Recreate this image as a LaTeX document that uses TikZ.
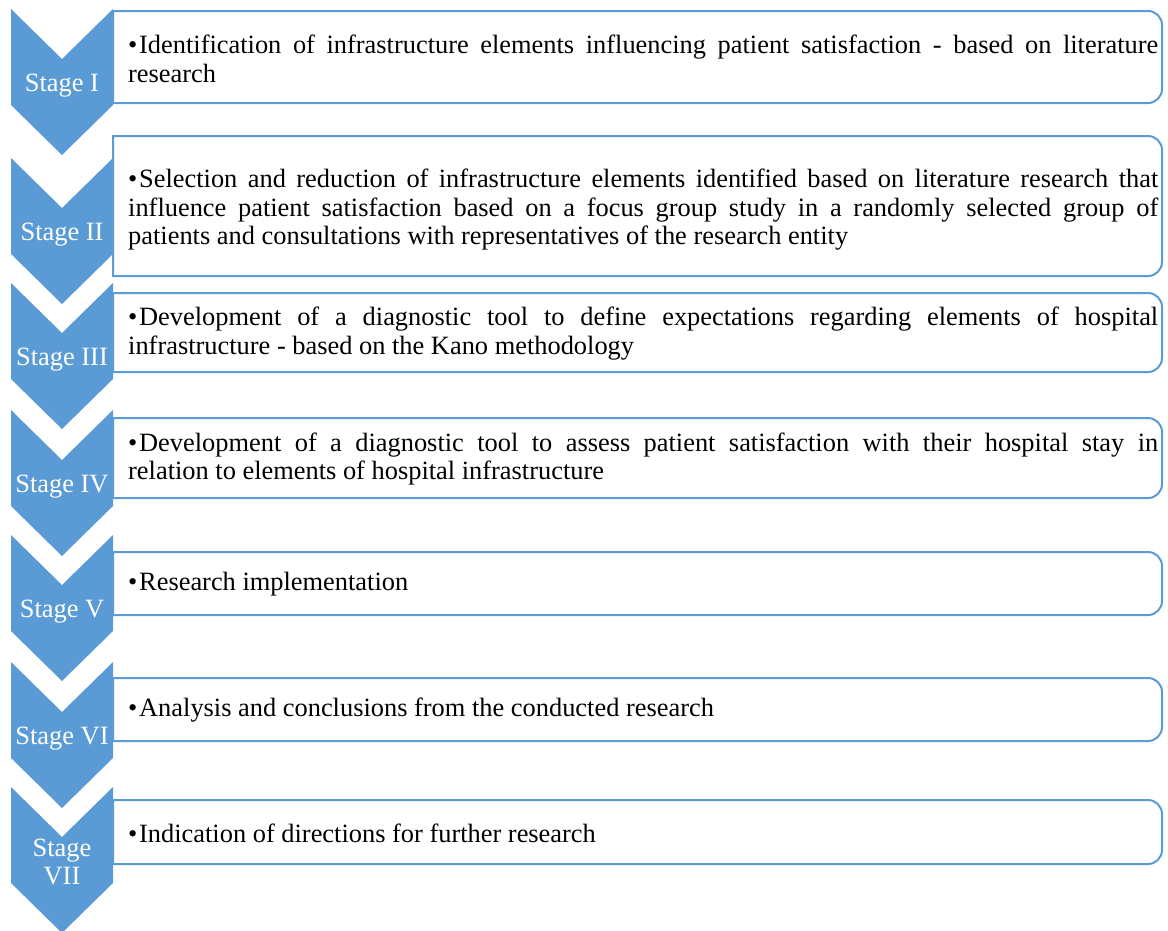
\documentclass[tikz,border=0pt]{standalone}
\usepackage{fontspec}
\setmainfont{Liberation Serif}
\definecolor{sblue}{HTML}{5B9BD5}
\tikzset{
  chev/.style={fill=sblue, draw=none},
  boxline/.style={draw=sblue, line width=2pt, fill=white},
  stagelbl/.style={text=white, align=center, inner sep=0pt, font=\fontsize{26.4}{28}\selectfont},
  itemtxt/.style={anchor=west, text width=1030pt, align=justify, inner sep=0pt, font=\fontsize{26.4}{28.5}\selectfont},
}
\newcommand\chevronshape[4]{%
  \path[chev] (11,-#2) -- (62,{-#2-50}) -- (113,-#2) -- (113,{-#2-96}) -- (62,{-#2-146}) -- (11,{-#2-96}) -- cycle;
  \node[stagelbl] (#1) at (62,{-#2-74-#3}) {#4};
}
\newcommand\stagebox[5]{%
  \draw[boxline] (113,-#2) -- (1148,-#2) arc[start angle=90,end angle=0,radius=14] -- (1162,{-#3+14}) arc[start angle=0,end angle=-90,radius=14] -- (113,-#3) -- cycle;
  \node[itemtxt] (#1) at (128,{-(#2+#3)/2-#4}) {\hyphenpenalty=10000\tolerance=10000\hangindent=11pt\hangafter=1\makebox[11pt][l]{\textbullet}#5};
}
\begin{document}
\begin{tikzpicture}[x=1pt,y=1pt]
\useasboundingbox (0,0) rectangle (1168,-930);
\chevronshape{s1}{9}{3}{Stage I}
\chevronshape{s2}{158}{3}{Stage II}
\chevronshape{s3}{283}{3}{Stage III}
\chevronshape{s4}{410}{3}{Stage IV}
\chevronshape{s5}{535}{3}{Stage V}
\chevronshape{s6}{662}{3}{Stage VI}
\chevronshape{s7}{787}{1}{Stage\\VII}
\stagebox{t1}{11}{103}{2}{Identification of infrastructure elements influencing patient satisfaction - based on literature\linebreak research}
\stagebox{t2}{136}{276}{4}{Selection and reduction of infrastructure elements identified based on literature research that\linebreak influence patient satisfaction based on a focus group study in a randomly selected group of\linebreak patients and consultations with representatives of the research entity}
\stagebox{t3}{293}{372}{1}{Development of a diagnostic tool to define expectations regarding elements of hospital\linebreak infrastructure - based on the Kano methodology}
\stagebox{t4}{418}{498}{1}{Development of a diagnostic tool to assess patient satisfaction with their hospital stay in\linebreak relation to elements of hospital infrastructure}
\stagebox{t5}{552}{615}{1}{Research implementation}
\stagebox{t6}{678}{741}{1}{Analysis and conclusions from the conducted research}
\stagebox{t7}{800}{864}{1}{Indication of directions for further research}
\end{tikzpicture}
\end{document}
